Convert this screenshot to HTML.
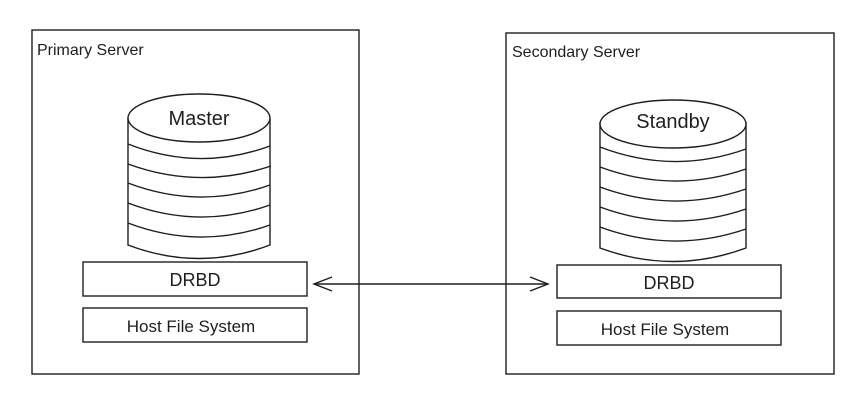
<!DOCTYPE html>
<html><head><meta charset="utf-8"><style>
html,body{margin:0;padding:0;background:#fff;width:863px;height:403px;overflow:hidden}
svg{display:block}
text{font-family:"Liberation Sans",sans-serif;fill:#1e1e1e}
</style></head><body>
<svg width="863" height="403" viewBox="0 0 863 403" xmlns="http://www.w3.org/2000/svg">
<g fill="none" stroke="#1e1e1e" stroke-width="1.4">
<!-- left server -->
<rect x="32" y="30" width="327" height="344"/>
<!-- left cylinder -->
<path d="M128 118 V245 Q199 272 270 245 V118"/>
<ellipse cx="199" cy="118" rx="71" ry="24" fill="#fff"/>
<path d="M128 144 Q199 172 270 146"/>
<path d="M128 164 Q199 190 271 166"/>
<path d="M128 183 Q199 210 270 185"/>
<path d="M128 203 Q199 230 270 205"/>
<path d="M128 223 Q199 250 270 225"/>
<rect x="83" y="262" width="224" height="34"/>
<rect x="83" y="308" width="224" height="34"/>
<!-- right server -->
<rect x="506" y="33" width="328" height="341"/>
<path d="M600 122 V248 Q673 275 746 248 V122"/>
<ellipse cx="673" cy="124" rx="73" ry="24" fill="#fff"/>
<path d="M600 147 Q673 175 746 149"/>
<path d="M600 167 Q673 194 746 169"/>
<path d="M600 187 Q673 214 746 189"/>
<path d="M600 207 Q673 234 746 209"/>
<path d="M600 227 Q673 254 746 229"/>
<rect x="557" y="265" width="224" height="33"/>
<rect x="557" y="311" width="224" height="34"/>
<!-- arrow -->
<path d="M314 284 H548"/>
<path d="M332 277 L314 284 L332 291"/>
<path d="M530 277 L548 284 L530 291"/>
</g>
<text x="37" y="55" font-size="16">Primary Server</text>
<text x="512" y="57" font-size="16">Secondary Server</text>
<text x="199" y="125" font-size="20" text-anchor="middle">Master</text>
<text x="673" y="128" font-size="20" text-anchor="middle">Standby</text>
<text x="195" y="286" font-size="18" text-anchor="middle">DRBD</text>
<text x="669" y="289" font-size="18" text-anchor="middle">DRBD</text>
<text x="191" y="332" font-size="17" text-anchor="middle">Host File System</text>
<text x="665" y="335" font-size="17" text-anchor="middle">Host File System</text>
</svg>
</body></html>
